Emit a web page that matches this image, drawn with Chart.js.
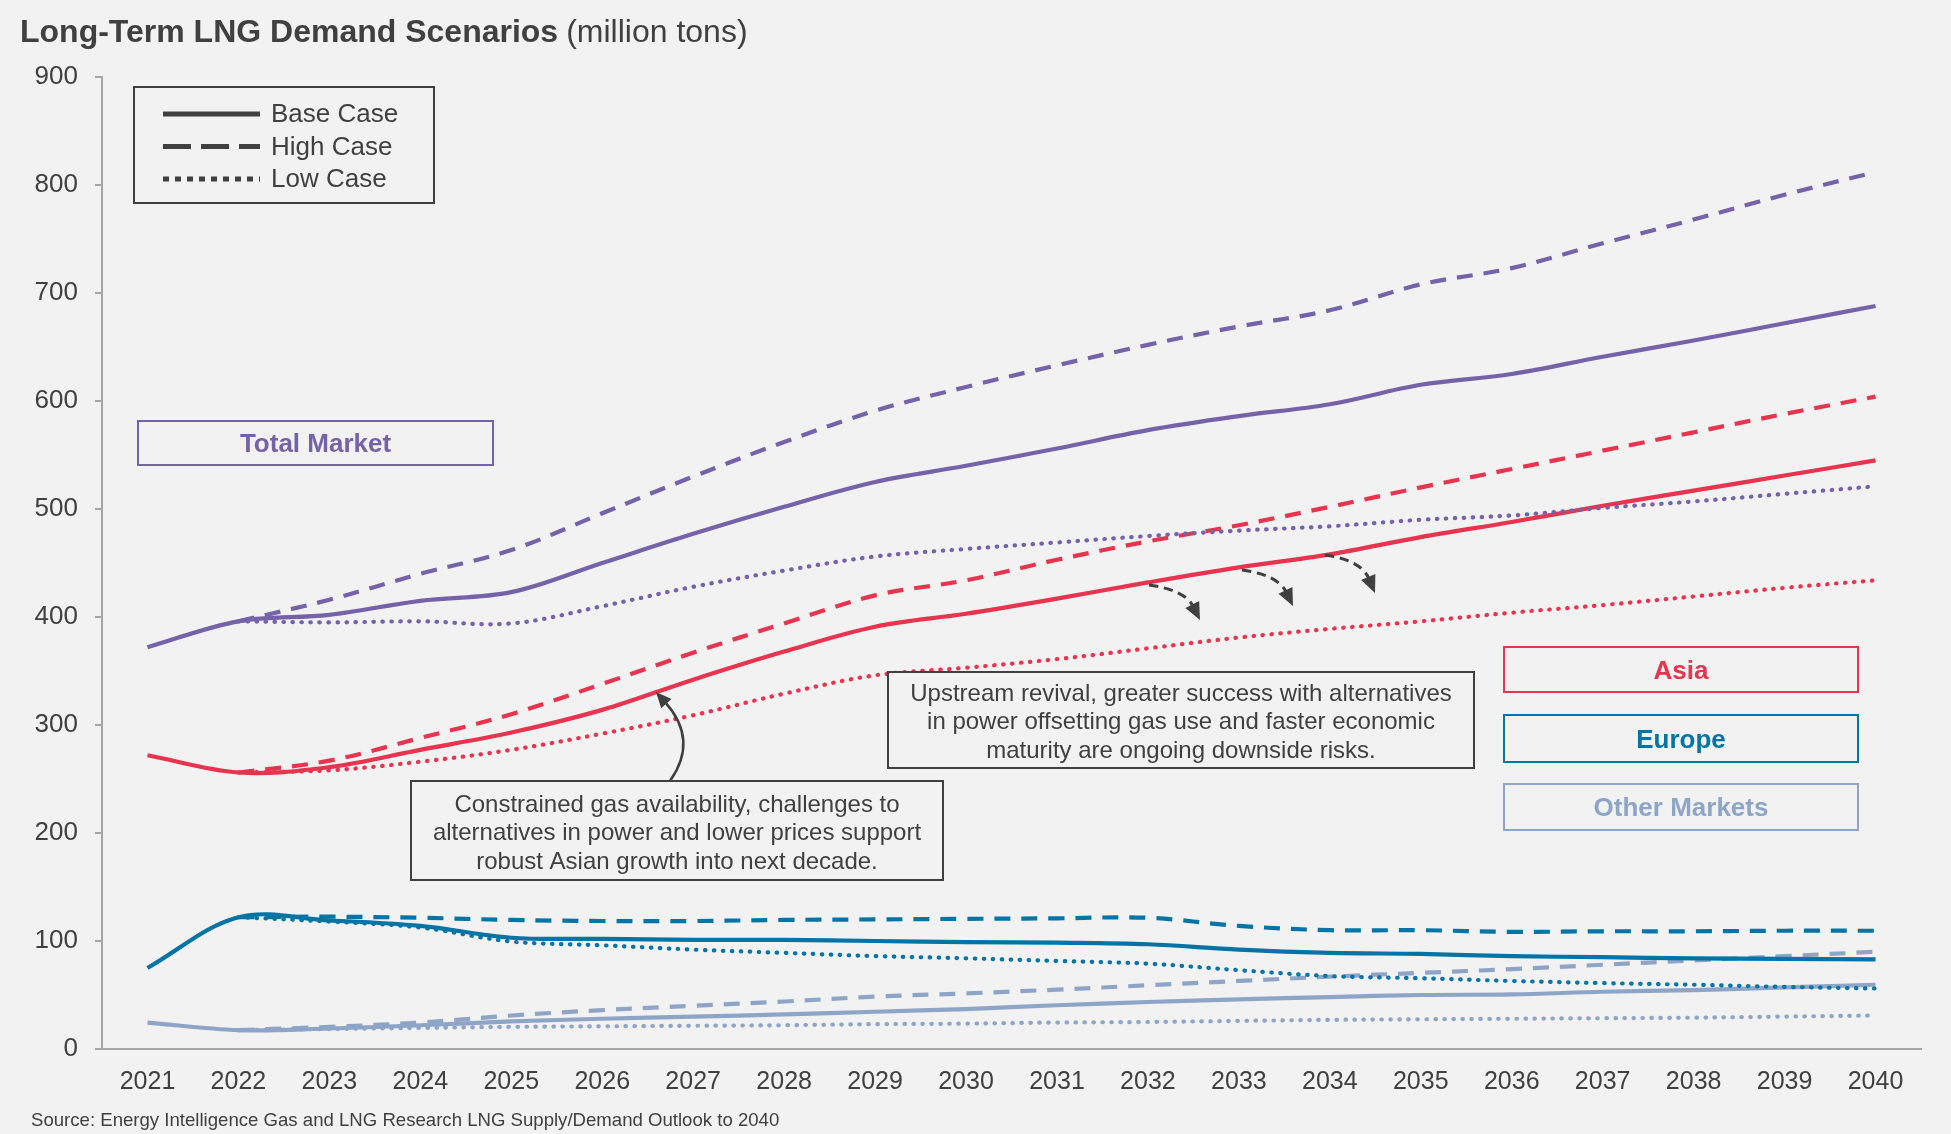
<!DOCTYPE html>
<html lang="en">
<head>
<meta charset="UTF-8">
<title>Long-Term LNG Demand Scenarios</title>
<script src="https://cdn.jsdelivr.net/npm/chart.js@4"></script>
<style>
  html, body { margin: 0; padding: 0; background: #f2f2f2; }
</style>
</head>
<body>
<canvas id="lngChart" width="1951" height="1134"></canvas>

<script>
// years on the x axis, y axis in million tons
const years = ['2021', '2022', '2023', '2024', '2025', '2026', '2027', '2028', '2029', '2030',
               '2031', '2032', '2033', '2034', '2035', '2036', '2037', '2038', '2039', '2040'];
const yMax = 900;
const yStep = 100;

// total market
const totalBase = [372, 396, 402, 415, 423, 450, 477, 502, 525, 540, 556, 573, 586, 597, 615, 625, 641, 656, 672, 688];
const totalHigh = [null, 396, 416, 440, 462, 496, 530, 562, 591, 613, 633, 652, 669, 684, 708, 723, 746, 768, 791, 812];
const totalLow  = [null, 396, 395, 396, 394, 410, 428, 443, 456, 463, 469, 475, 480, 484, 490, 494, 501, 507, 514, 521];

// asia
const asiaBase = [272, 256, 261, 277, 293, 314, 342, 368, 391, 403, 417, 432, 446, 458, 474, 488, 503, 517, 531, 545];
const asiaHigh = [null, 256, 267, 288, 310, 338, 367, 394, 420, 434, 453, 470, 485, 502, 520, 537, 554, 571, 588, 604];
const asiaLow  = [null, 256, 258, 266, 277, 292, 309, 329, 346, 353, 361, 371, 381, 389, 396, 404, 411, 419, 427, 434];

// europe
const europeBase = [75, 122, 119, 114, 103, 102, 101, 101, 100, 99, 98.5, 97, 92, 89, 88, 86, 85, 84, 83.5, 83];
const europeHigh = [null, 122, 122.5, 121.5, 119.5, 118.5, 118.5, 119.5, 120, 120.5, 121, 121.5, 114, 110, 110, 108.5, 109, 109, 109.5, 109.5];
const europeLow  = [null, 122, 118, 112.5, 99.5, 96, 92, 89, 86, 84, 81.5, 79, 73, 67.5, 65.5, 63, 61, 59.5, 57.5, 56];

// other markets
const otherBase = [24.5, 17.5, 19, 22, 25.5, 28, 30, 32, 34.5, 37, 40.5, 43.5, 46, 48, 50, 50.5, 53, 54.5, 57, 59.5];
const otherHigh = [null, 17.5, 20.5, 24.5, 31, 36, 40, 44, 48.5, 51.5, 55, 59, 63, 67, 70.5, 74, 78, 82, 86, 90];
const otherLow  = [null, 17.5, 18.5, 19.5, 20.5, 21, 21.5, 22, 23, 23.5, 24.5, 25, 26, 27, 27.5, 28, 28.5, 29, 30, 31];

const titleBold = 'Long-Term LNG Demand Scenarios';
const titleUnit = '(million tons)';
const sourceNote = 'Source: Energy Intelligence Gas and LNG Research LNG Supply/Demand Outlook to 2040';
const caseNames = ['Base Case', 'High Case', 'Low Case'];
const noteAsia = ['Constrained gas availability, challenges to',
                  'alternatives in power and lower prices support',
                  'robust Asian growth into next decade.'];
const noteRisk = ['Upstream revival, greater success with alternatives',
                  'in power offsetting gas use and faster economic',
                  'maturity are ongoing downside risks.'];

const COL = {
    total: '#7562a8',
    asia: '#e8344e',
    europe: '#0474a6',
    other: '#8fa5c8',
    text: '#404040',
    axis: '#a6a6a6',
    bg: '#f2f2f2'
};
const FONT = "'Liberation Sans', Arial, sans-serif";

const dashes = { base: [], high: [16, 11], low: [0.5, 8.5] };

function series(label, data, color, kind) {
    return {
        label: label,
        data: data,
        borderColor: color,
        borderWidth: 4.2,
        borderDash: dashes[kind],
        borderCapStyle: kind === 'low' ? 'round' : 'butt',
        pointRadius: 0,
        fill: false,
        tension: 0.35
    };
}

// boxes, notes and arrows around the plot
const overlay = {
    id: 'overlay',
    beforeDraw(chart) {
        const ctx = chart.ctx;
        ctx.save();
        ctx.fillStyle = COL.bg;
        ctx.fillRect(0, 0, chart.width, chart.height);
        ctx.restore();
    },
    afterDatasetsDraw(chart) {
        const ctx = chart.ctx;
        ctx.save();
        ctx.textBaseline = 'alphabetic';

        // title
        ctx.fillStyle = COL.text;
        ctx.textAlign = 'left';
        ctx.font = 'bold 32px ' + FONT;
        ctx.fillText(titleBold, 20, 42);
        const w = ctx.measureText(titleBold).width;
        ctx.font = '32px ' + FONT;
        ctx.fillText(titleUnit, 20 + w + 8, 42);

        // source line
        ctx.font = '18.6px ' + FONT;
        ctx.fillText(sourceNote, 31, 1126);

        // line style key
        ctx.setLineDash([]);
        ctx.strokeStyle = COL.text;
        ctx.lineWidth = 2;
        ctx.strokeRect(134, 87, 300, 116);
        const keyDash = [[], [28, 10], [6, 6]];
        caseNames.forEach((name, i) => {
            const y = 114 + i * 32.5;
            ctx.setLineDash(keyDash[i]);
            ctx.lineWidth = 5;
            ctx.beginPath();
            ctx.moveTo(163, y);
            ctx.lineTo(260, y);
            ctx.stroke();
            ctx.setLineDash([]);
            ctx.font = '26px ' + FONT;
            ctx.textBaseline = 'middle';
            ctx.fillText(name, 271, y + 1);
        });

        // region tags
        const tags = [
            ['Total Market', COL.total, 138, 421, 355, 44],
            ['Asia', COL.asia, 1504, 647, 354, 45],
            ['Europe', COL.europe, 1504, 715, 354, 47],
            ['Other Markets', COL.other, 1504, 784, 354, 46]
        ];
        tags.forEach(([name, color, x, y, bw, bh]) => {
            ctx.strokeStyle = color;
            ctx.lineWidth = 2;
            ctx.strokeRect(x, y, bw, bh);
            ctx.fillStyle = color;
            ctx.font = 'bold 26px ' + FONT;
            ctx.textAlign = 'center';
            ctx.textBaseline = 'middle';
            ctx.fillText(name, x + bw / 2, y + bh / 2 + 2);
        });

        // note boxes
        function note(lines, x, y, bw, bh, firstY) {
            ctx.fillStyle = COL.bg;
            ctx.fillRect(x, y, bw, bh);
            ctx.strokeStyle = COL.text;
            ctx.lineWidth = 2;
            ctx.strokeRect(x, y, bw, bh);
            ctx.fillStyle = COL.text;
            ctx.font = '24px ' + FONT;
            ctx.textAlign = 'center';
            ctx.textBaseline = 'middle';
            lines.forEach((t, i) => ctx.fillText(t, x + bw / 2, firstY + i * 28.5));
        }
        note(noteAsia, 411, 781, 532, 99, 805);
        note(noteRisk, 888, 672, 586, 96, 694);

        // curved arrows
        function arrow(p0, c, p1, dash, width, head) {
            ctx.strokeStyle = COL.text;
            ctx.fillStyle = COL.text;
            ctx.lineWidth = width;
            ctx.setLineDash(dash);
            const ang = Math.atan2(p1[1] - c[1], p1[0] - c[0]);
            const bx = p1[0] - Math.cos(ang) * head * 0.8;
            const by = p1[1] - Math.sin(ang) * head * 0.8;
            ctx.beginPath();
            ctx.moveTo(p0[0], p0[1]);
            ctx.quadraticCurveTo(c[0], c[1], bx, by);
            ctx.stroke();
            ctx.setLineDash([]);
            ctx.beginPath();
            ctx.moveTo(p1[0], p1[1]);
            ctx.lineTo(p1[0] - head * Math.cos(ang - 0.42), p1[1] - head * Math.sin(ang - 0.42));
            ctx.lineTo(p1[0] - head * Math.cos(ang + 0.42), p1[1] - head * Math.sin(ang + 0.42));
            ctx.closePath();
            ctx.fill();
        }
        arrow([670, 781], [699, 740], [656, 692], [], 2.5, 17);
        arrow([1149, 585], [1185, 590], [1200, 620], [9, 6], 3, 19);
        arrow([1242, 570], [1278, 575], [1293, 606], [9, 6], 3, 19);
        arrow([1325, 555], [1361, 560], [1375, 593], [9, 6], 3, 19);

        ctx.restore();
    }
};

new Chart(document.getElementById('lngChart'), {
    type: 'line',
    data: {
        labels: years,
        datasets: [
            series('Total Base', totalBase, COL.total, 'base'),
            series('Total High', totalHigh, COL.total, 'high'),
            series('Total Low', totalLow, COL.total, 'low'),
            series('Asia Base', asiaBase, COL.asia, 'base'),
            series('Asia High', asiaHigh, COL.asia, 'high'),
            series('Asia Low', asiaLow, COL.asia, 'low'),
            series('Europe Base', europeBase, COL.europe, 'base'),
            series('Europe High', europeHigh, COL.europe, 'high'),
            series('Europe Low', europeLow, COL.europe, 'low'),
            series('Other Base', otherBase, COL.other, 'base'),
            series('Other High', otherHigh, COL.other, 'high'),
            series('Other Low', otherLow, COL.other, 'low')
        ]
    },
    options: {
        responsive: false,
        animation: false,
        devicePixelRatio: 1,
        layout: { padding: { top: 77, right: 30, left: 0, bottom: 0 } },
        plugins: {
            legend: { display: false },
            tooltip: { enabled: false }
        },
        scales: {
            x: {
                offset: true,
                grid: { display: false, drawTicks: false },
                border: { display: true, color: COL.axis, width: 2 },
                ticks: { color: COL.text, font: { family: FONT, size: 25 }, padding: 18, maxRotation: 0 },
                afterFit: s => { s.height = 85; }
            },
            y: {
                min: 0,
                max: yMax,
                grid: { display: true, drawOnChartArea: false, drawTicks: true, tickLength: 7, color: COL.axis, lineWidth: 2 },
                border: { display: true, color: COL.axis, width: 2 },
                ticks: { stepSize: yStep, color: COL.text, font: { family: FONT, size: 26 }, padding: 17 },
                afterFit: s => { s.width = 102; }
            }
        }
    },
    plugins: [overlay]
});
</script>
</body>
</html>
